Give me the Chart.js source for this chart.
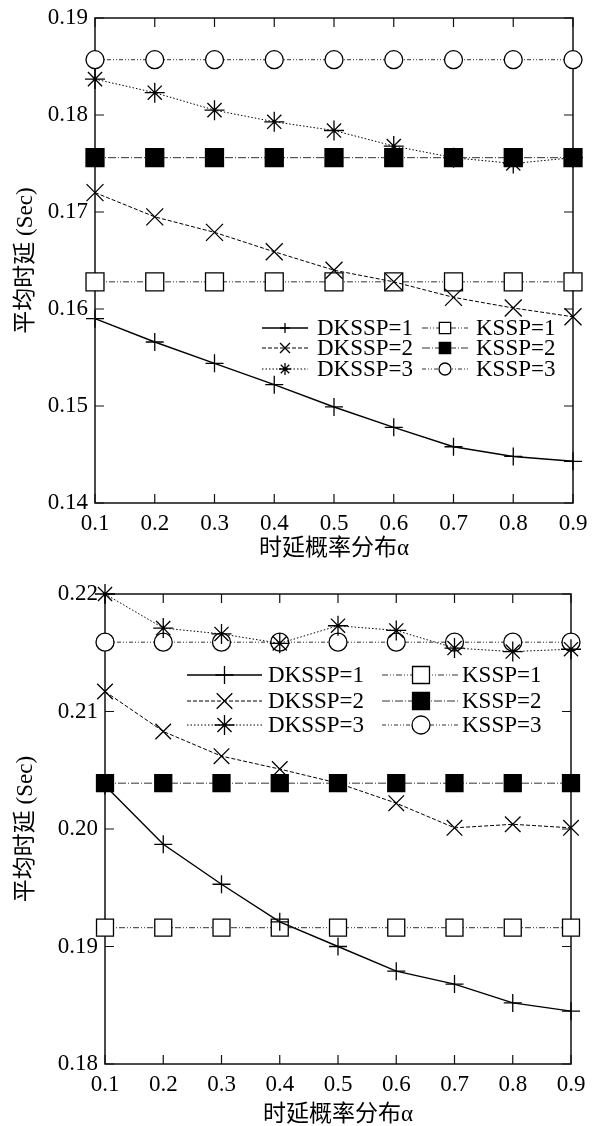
<!DOCTYPE html>
<html><head><meta charset="utf-8">
<script src="https://cdn.jsdelivr.net/npm/chart.js@4.4.1/dist/chart.umd.min.js"></script>
<style>
html,body{margin:0;padding:0;background:#fff;}
.box{position:relative;width:595px;}
canvas{display:block;}
</style></head><body>
<div class="box" style="height:560px"><canvas id="c1"></canvas></div>
<div class="box" style="height:566px"><canvas id="c2"></canvas></div>
<script>
// ---------- data ----------
const alpha = [0.1, 0.2, 0.3, 0.4, 0.5, 0.6, 0.7, 0.8, 0.9];
const seriesNames = ['DKSSP=1', 'DKSSP=2', 'DKSSP=3', 'KSSP=1', 'KSSP=2', 'KSSP=3'];
// top chart
const topDK1 = [0.1590, 0.1566, 0.1544, 0.1522, 0.1499, 0.1478, 0.1458, 0.1448, 0.1443];
const topDK2 = [0.1720, 0.1695, 0.1679, 0.1659, 0.1640, 0.1628, 0.1612, 0.1601, 0.1592];
const topDK3 = [0.1837, 0.1823, 0.1805, 0.1793, 0.1784, 0.1768, 0.1756, 0.1750, 0.1756];
const topK1  = [0.1628, 0.1628, 0.1628, 0.1628, 0.1628, 0.1628, 0.1628, 0.1628, 0.1628];
const topK2  = [0.1756, 0.1756, 0.1756, 0.1756, 0.1756, 0.1756, 0.1756, 0.1756, 0.1756];
const topK3  = [0.1857, 0.1857, 0.1857, 0.1857, 0.1857, 0.1857, 0.1857, 0.1857, 0.1857];
// bottom chart
const botDK1 = [0.2037, 0.1987, 0.1953, 0.1921, 0.1900, 0.1879, 0.1868, 0.1852, 0.1845];
const botDK2 = [0.2117, 0.2083, 0.2062, 0.2051, 0.2039, 0.2022, 0.2001, 0.2004, 0.2001];
const botDK3 = [0.2200, 0.2171, 0.2166, 0.2158, 0.2173, 0.2169, 0.2154, 0.2151, 0.2153];
const botK1  = [0.1916, 0.1916, 0.1916, 0.1916, 0.1916, 0.1916, 0.1916, 0.1916, 0.1916];
const botK2  = [0.2039, 0.2039, 0.2039, 0.2039, 0.2039, 0.2039, 0.2039, 0.2039, 0.2039];
const botK3  = [0.2159, 0.2159, 0.2159, 0.2159, 0.2159, 0.2159, 0.2159, 0.2159, 0.2159];
const xTitle = '时延概率分布α';
const yTitle = '平均时延 (Sec)';

// ---------- styles ----------
const SERIF = "'Liberation Serif','Times New Roman','Noto Sans CJK SC',serif";
const styles = [
  {pointStyle:'cross',    dash:[],              color:'#000', width:1.4, fill:'#000'},
  {pointStyle:'crossRot', dash:[4,2],           color:'#000', width:1.0, fill:'#000'},
  {pointStyle:'star',     dash:[1.5,2],         color:'#000', width:1.0, fill:'#000'},
  {pointStyle:'rect',     dash:[6,2,1,2,1,2],   color:'#333', width:1.0, fill:'#fff'},
  {pointStyle:'rect',     dash:[8,2,1,2],       color:'#333', width:1.0, fill:'#000'},
  {pointStyle:'circle',   dash:[4,2,1,2,1,2],   color:'#333', width:1.0, fill:'#fff'}
];

function drawMarker(ctx, style, x, y, r, fill) {
  ctx.save();
  ctx.setLineDash([]);
  ctx.strokeStyle = '#000';
  ctx.lineWidth = 1.3;
  ctx.beginPath();
  const d = r * Math.SQRT1_2;
  if (style === 'cross' || style === 'star') {
    ctx.moveTo(x - r, y); ctx.lineTo(x + r, y);
    ctx.moveTo(x, y - r); ctx.lineTo(x, y + r);
  }
  if (style === 'crossRot' || style === 'star') {
    ctx.moveTo(x - d, y - d); ctx.lineTo(x + d, y + d);
    ctx.moveTo(x - d, y + d); ctx.lineTo(x + d, y - d);
  }
  if (style === 'rect') {
    ctx.rect(x - d, y - d, 2 * d, 2 * d);
    ctx.fillStyle = fill; ctx.fill();
  }
  if (style === 'circle') {
    ctx.arc(x, y, r, 0, Math.PI * 2);
    ctx.fillStyle = fill; ctx.fill();
  }
  ctx.stroke();
  ctx.restore();
}

function makeDatasets(arrs, radii) {
  return arrs.map((vals, i) => ({
    label: seriesNames[i],
    data: alpha.map((a, j) => ({x: a, y: vals[j]})),
    borderColor: styles[i].color,
    borderWidth: styles[i].width,
    borderDash: styles[i].dash,
    pointStyle: styles[i].pointStyle,
    pointRadius: radii[i],
    pointHoverRadius: radii[i],
    pointBorderColor: '#000',
    pointBorderWidth: 1.3,
    pointBackgroundColor: styles[i].fill,
    tension: 0,
    clip: false,
    fill: false
  }));
}

const framePlugin = {
  id: 'frame',
  beforeDatasetsDraw(chart) {
    const {ctx, chartArea: a, scales} = chart;
    ctx.save();
    ctx.strokeStyle = '#111';
    ctx.lineWidth = 1.5;
    ctx.strokeRect(a.left, a.top, a.right - a.left, a.bottom - a.top);
    ctx.lineWidth = 1.2;
    ctx.beginPath();
    const tl = 9;
    scales.x.ticks.forEach(t => {
      const px = scales.x.getPixelForValue(t.value);
      ctx.moveTo(px, a.bottom); ctx.lineTo(px, a.bottom - tl);
      ctx.moveTo(px, a.top); ctx.lineTo(px, a.top + tl);
    });
    scales.y.ticks.forEach(t => {
      const py = scales.y.getPixelForValue(t.value);
      ctx.moveTo(a.left, py); ctx.lineTo(a.left + tl, py);
      ctx.moveTo(a.right, py); ctx.lineTo(a.right - tl, py);
    });
    ctx.stroke();
    ctx.restore();
  }
};

const legendPlugin = {
  id: 'customLegend',
  afterDraw(chart, args, opts) {
    const {ctx} = chart;
    const ds = chart.data.datasets;
    ctx.save();
    ctx.font = '23px ' + SERIF;
    ctx.fillStyle = '#000';
    ctx.textBaseline = 'middle';
    ds.forEach((d, i) => {
      const col = opts.cols[Math.floor(i / 3)];
      const y = opts.rows[i % 3];
      ctx.save();
      ctx.strokeStyle = d.borderColor;
      ctx.lineWidth = d.borderWidth;
      ctx.setLineDash(d.borderDash);
      ctx.beginPath();
      ctx.moveTo(col.x0, y); ctx.lineTo(col.x1, y);
      ctx.stroke();
      ctx.restore();
      drawMarker(ctx, d.pointStyle, (col.x0 + col.x1) / 2, y, opts.radii[i], d.pointBackgroundColor);
      ctx.fillText(d.label, col.tx, y + 1);
    });
    ctx.restore();
  }
};

function makeChart(id, arrs, radii, cfg) {
  return new Chart(document.getElementById(id), {
    type: 'line',
    data: {datasets: makeDatasets(arrs, radii)},
    options: {
      responsive: true,
      maintainAspectRatio: false,
      animation: false,
      events: [],
      layout: {padding: {top: cfg.top, right: cfg.right, bottom: 0, left: 0}},
      plugins: {
        legend: {display: false},
        tooltip: {enabled: false},
        customLegend: cfg.legend
      },
      scales: {
        x: {
          type: 'linear', min: 0.1, max: 0.9,
          grid: {display: false, drawTicks: false},
          border: {display: false},
          ticks: {stepSize: 0.1, padding: 7, color: '#000', maxRotation: 0,
                  font: {family: SERIF, size: 23},
                  callback: v => v.toFixed(1)},
          title: {display: true, text: xTitle, color: '#000',
                  font: {family: SERIF, size: 23, lineHeight: 1}, padding: {top: 0, bottom: cfg.xTitlePad}},
          afterFit(s) { s.height = cfg.xh; s.paddingLeft = s.paddingRight = 0; }
        },
        y: {
          type: 'linear', min: cfg.ymin, max: cfg.ymax,
          grid: {display: false, drawTicks: false},
          border: {display: false},
          ticks: {stepSize: 0.01, padding: 7, color: '#000',
                  font: {family: SERIF, size: 23},
                  callback: v => v.toFixed(2)},
          title: {display: true, text: yTitle, color: '#000',
                  font: {family: SERIF, size: 23, lineHeight: 1}, padding: {top: cfg.yTitlePad, bottom: 0}},
          afterFit(s) { s.width = cfg.yw; s.paddingTop = s.paddingBottom = 0; }
        }
      }
    },
    plugins: [framePlugin, legendPlugin]
  });
}

makeChart('c1', [topDK1, topDK2, topDK3, topK1, topK2, topK3],
  [9, 12, 10, 12.7, 12.7, 9],
  {top: 18, right: 22, xh: 57, yw: 95, ymin: 0.14, ymax: 0.19, xTitlePad: 0, yTitlePad: 14,
   legend: {rows: [328, 348, 369],
            cols: [{x0: 262, x1: 308, tx: 317}, {x0: 422, x1: 468, tx: 476}],
            radii: [5, 7, 6, 8, 8, 6]}});

makeChart('c2', [botDK1, botDK2, botDK3, botK1, botK2, botK3],
  [9, 11, 10, 12, 12, 9],
  {top: 34, right: 24, xh: 62, yw: 105, ymin: 0.18, ymax: 0.22, xTitlePad: 0, yTitlePad: 14,
   legend: {rows: [115, 141, 165],
            cols: [{x0: 187, x1: 262, tx: 268}, {x0: 382, x1: 460, tx: 462}],
            radii: [9, 11, 10, 12, 12, 9]}});
</script>
</body></html>
